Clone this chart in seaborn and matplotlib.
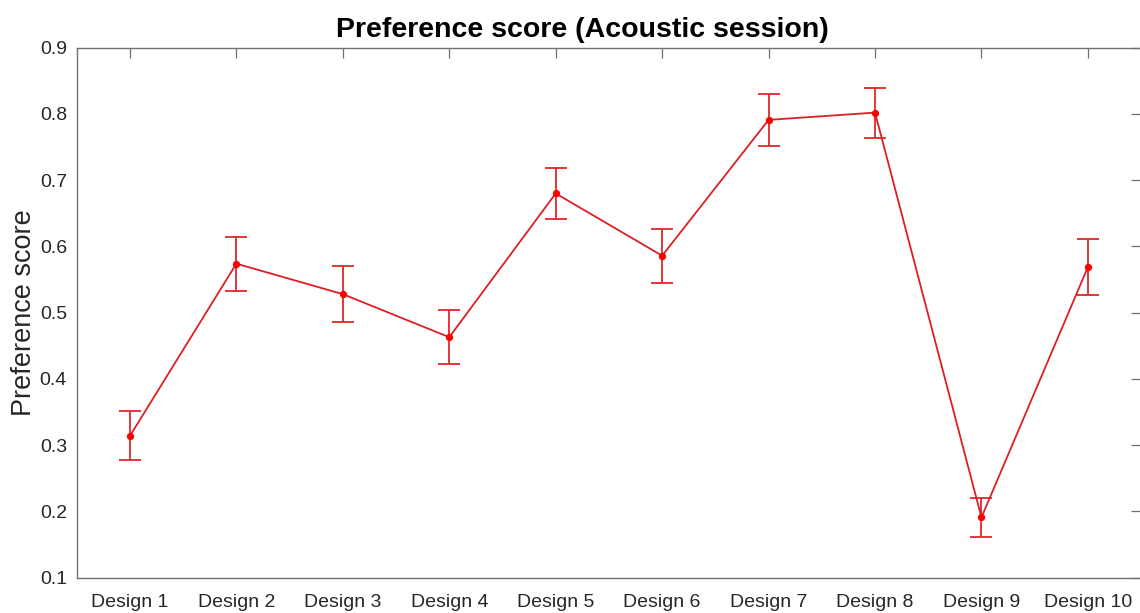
import numpy as np
import pandas as pd
import matplotlib
matplotlib.use("Agg")
import matplotlib.pyplot as plt
import seaborn as sns

# Preference scores per design, with lower/upper ends of the error bars
designs = ["Design 1", "Design 2", "Design 3", "Design 4", "Design 5",
           "Design 6", "Design 7", "Design 8", "Design 9", "Design 10"]
score = [0.314, 0.574, 0.528, 0.463, 0.680, 0.586, 0.791, 0.802, 0.191, 0.569]
upper = [0.351, 0.615, 0.570, 0.504, 0.719, 0.627, 0.830, 0.839, 0.220, 0.611]
lower = [0.277, 0.532, 0.486, 0.423, 0.641, 0.545, 0.751, 0.764, 0.161, 0.526]
y_ticks = [0.1, 0.2, 0.3, 0.4, 0.5, 0.6, 0.7, 0.8, 0.9]

sns.set_style("white")
plt.rcParams["font.family"] = ["Liberation Sans", "DejaVu Sans"]

pos = np.arange(1, len(designs) + 1)
df = pd.DataFrame({"pos": pos, "score": score})

fig = plt.figure(figsize=(11.4, 6.13), dpi=100)
ax = fig.add_axes([0.0673, 0.0576, 0.9337, 0.8646])

err_lo = np.array(score) - np.array(lower)
err_hi = np.array(upper) - np.array(score)
ax.errorbar(pos, score, yerr=[err_lo, err_hi], fmt="none",
            ecolor="#e3262b", elinewidth=1.3, capsize=7.6, capthick=1.3,
            zorder=2)
sns.lineplot(data=df, x="pos", y="score", ax=ax, color="#dc1f25",
             linewidth=1.3, marker="o", markersize=4.5,
             markerfacecolor="#ff0000", markeredgecolor="#ff0000",
             zorder=3)

ax.set_xlim(0.5, 10.5)
ax.set_ylim(0.1, 0.9)
ax.set_xticks(pos)
ax.set_xticklabels(designs)
ax.set_yticks(y_ticks)
ax.set_yticklabels([f"{t:.1f}" for t in y_ticks])

ax.set_xlabel("")
ax.set_ylabel("Preference score", fontsize=19.5, color="#262626", labelpad=2)
ax.set_title("Preference score (Acoustic session)", fontsize=20.5,
             fontweight="bold", color="black", x=0.475, pad=8)

for side in ["left", "right", "top", "bottom"]:
    ax.spines[side].set_visible(True)
    ax.spines[side].set_color("#707070")
    ax.spines[side].set_linewidth(1.0)

ax.tick_params(axis="both", which="major", direction="in", length=7,
               width=0.9, color="#707070", labelsize=14,
               labelcolor="#262626", top=True, right=True)
ax.tick_params(axis="x", pad=12)
ax.tick_params(axis="y", pad=7)

fig.savefig("out.png", dpi=100)
